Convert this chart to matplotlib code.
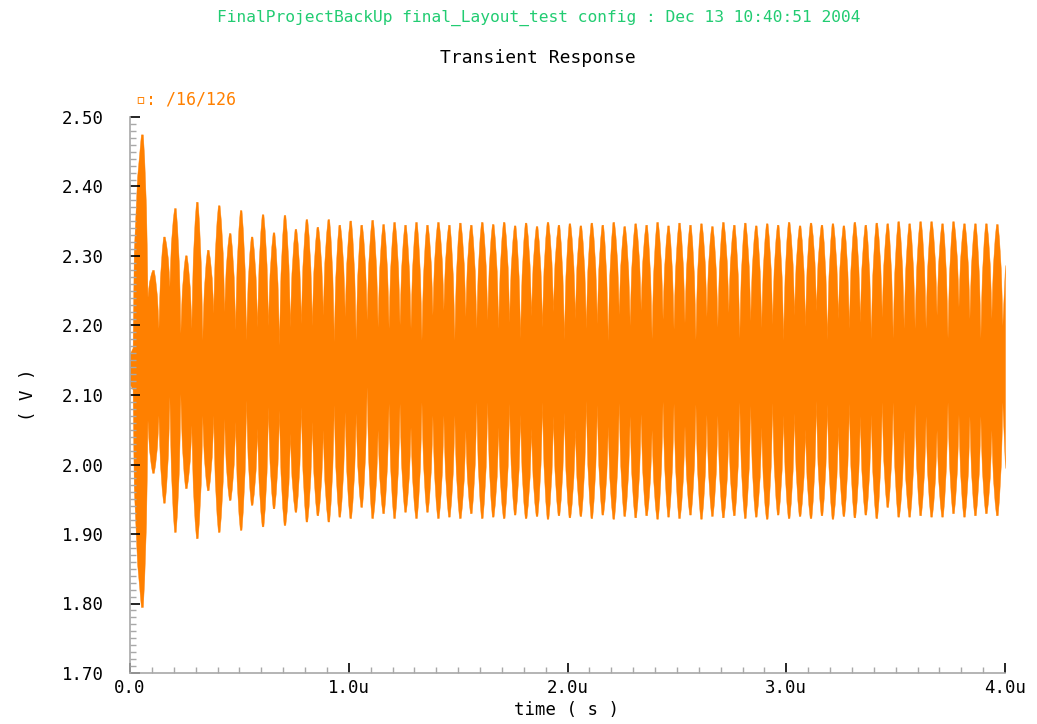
import numpy as np
import matplotlib
matplotlib.use("Agg")
import matplotlib.pyplot as plt
from matplotlib.ticker import MultipleLocator, FuncFormatter

plt.rcParams['font.family'] = ['DejaVu Sans Mono', 'DejaVu Sans']

# ---- waveform data: per-cycle envelope of the output node ----
first_peak_t = 0.0549e-6      # time of the first (largest) overshoot
cycle_period = 0.0501e-6      # period of the ringing pattern
end_t = 4.0e-6

start_t = [0.0, 0.012e-6]
start_hi = [2.160, 2.168]
start_lo = [2.115, 2.108]

spike_hi = [
    2.475, 2.280, 2.328, 2.369, 2.301, 2.378, 2.309, 2.373, 2.333, 2.366,
    2.328, 2.360, 2.334, 2.359, 2.339, 2.353, 2.342, 2.353, 2.345, 2.351,
    2.345, 2.352, 2.346, 2.349, 2.345, 2.349, 2.345, 2.349, 2.345, 2.348,
    2.345, 2.349, 2.346, 2.349, 2.344, 2.348, 2.343, 2.349, 2.345, 2.347,
    2.344, 2.348, 2.345, 2.349, 2.343, 2.347, 2.345, 2.349, 2.344, 2.348,
    2.345, 2.347, 2.343, 2.349, 2.345, 2.348, 2.344, 2.347, 2.345, 2.349,
    2.344, 2.348, 2.345, 2.347, 2.344, 2.349, 2.345, 2.348, 2.347, 2.350,
    2.347, 2.350, 2.350, 2.347, 2.350, 2.347, 2.347, 2.347, 2.346,
]
spike_lo = [
    1.795, 1.988, 1.945, 1.903, 1.966, 1.894, 1.963, 1.903, 1.949, 1.906,
    1.942, 1.911, 1.937, 1.913, 1.932, 1.918, 1.927, 1.918, 1.925, 1.923,
    1.939, 1.923, 1.930, 1.923, 1.932, 1.923, 1.932, 1.923, 1.925, 1.923,
    1.930, 1.923, 1.925, 1.923, 1.928, 1.923, 1.926, 1.922, 1.927, 1.924,
    1.926, 1.923, 1.928, 1.922, 1.926, 1.924, 1.927, 1.922, 1.925, 1.923,
    1.928, 1.922, 1.926, 1.924, 1.927, 1.923, 1.925, 1.922, 1.928, 1.923,
    1.926, 1.923, 1.927, 1.922, 1.926, 1.924, 1.928, 1.923, 1.939, 1.925,
    1.925, 1.927, 1.925, 1.925, 1.930, 1.925, 1.927, 1.930, 1.927,
]
notch_hi = [
    2.241, 2.196, 2.256, 2.189, 2.196, 2.179, 2.218, 2.220, 2.194, 2.179,
    2.198, 2.200, 2.172, 2.198, 2.203, 2.200, 2.215, 2.177, 2.213, 2.179,
    2.208, 2.198, 2.196, 2.201, 2.196, 2.179, 2.215, 2.222, 2.179, 2.213,
    2.196, 2.208, 2.196, 2.205, 2.182, 2.214, 2.198, 2.220, 2.180, 2.210,
    2.196, 2.203, 2.178, 2.216, 2.200, 2.222, 2.181, 2.209, 2.195, 2.204,
    2.180, 2.213, 2.198, 2.219, 2.182, 2.207, 2.197, 2.202, 2.179, 2.215,
    2.199, 2.221, 2.180, 2.210, 2.196, 2.205, 2.181, 2.212, 2.182, 2.196,
    2.196, 2.196, 2.215, 2.182, 2.227, 2.210, 2.182, 2.210, 2.200,
]
notch_lo = [
    2.064, 2.071, 2.098, 2.102, 2.057, 2.071, 2.071, 2.066, 2.062, 2.093,
    2.052, 2.083, 2.078, 2.045, 2.083, 2.062, 2.050, 2.086, 2.076, 2.074,
    2.112, 2.050, 2.088, 2.088, 2.054, 2.090, 2.071, 2.071, 2.071, 2.050,
    2.090, 2.090, 2.054, 2.088, 2.072, 2.052, 2.090, 2.070, 2.075, 2.051,
    2.092, 2.086, 2.055, 2.089, 2.070, 2.073, 2.050, 2.091, 2.088, 2.056,
    2.087, 2.072, 2.071, 2.052, 2.090, 2.085, 2.054, 2.089, 2.071, 2.074,
    2.051, 2.092, 2.087, 2.055, 2.088, 2.070, 2.072, 2.090, 2.090, 2.050,
    2.088, 2.070, 2.050, 2.090, 2.072, 2.070, 2.070, 2.050, 2.090,
]
final_hi = 2.287
final_lo = 1.995

# ---- text ----
header = "FinalProjectBackUp final_Layout_test config : Dec 13 10:40:51 2004"
title = "Transient Response"
trace_name = "\u25ab: /16/126"
x_label = "time ( s )"
y_label = "( V )"

ORANGE = "#ff8000"
GREEN = "#22cc72"

# Shape of one overshoot: (time offset in periods, fraction of the way
# from the peak down to the neighbouring notch).  Rounded shoulders,
# narrow notches.
RISE = [(-0.435, 0.70), (-0.365, 0.45), (-0.20, 0.15), (-0.075, 0.0)]
FALL = [(0.075, 0.0), (0.20, 0.15), (0.365, 0.45), (0.435, 0.70), (0.5, 1.0)]

n = len(spike_hi)
t_env, hi_env, lo_env = list(start_t), list(start_hi), list(start_lo)
for k in range(n):
    tk = first_peak_t + k * cycle_period
    if k == 0:
        left_hi, left_lo = start_hi[-1], start_lo[-1]
        rise = [(-0.75, 0.55), (-0.45, 0.2), (-0.1, 0.0)]
    else:
        left_hi, left_lo = notch_hi[k - 1], notch_lo[k - 1]
        rise = RISE
    for off, d in rise:
        t_env.append(tk + off * cycle_period)
        hi_env.append(spike_hi[k] - d * (spike_hi[k] - left_hi))
        lo_env.append(spike_lo[k] - d * (spike_lo[k] - left_lo))
    for off, d in FALL:
        t_env.append(tk + off * cycle_period)
        hi_env.append(spike_hi[k] - d * (spike_hi[k] - notch_hi[k]))
        lo_env.append(spike_lo[k] - d * (spike_lo[k] - notch_lo[k]))
t_env.append(end_t)
hi_env.append(final_hi)
lo_env.append(final_lo)

fig = plt.figure(figsize=(10.37, 7.24), dpi=100)
fig.patch.set_facecolor("white")
ax = fig.add_axes([130 / 1037, 51 / 724, 875 / 1037, 556 / 724])

ax.fill_between(t_env, lo_env, hi_env, color=ORANGE, linewidth=0.3,
                edgecolor=ORANGE)

ax.set_xlim(0, 4.0e-6)
ax.set_ylim(1.70, 2.50)

for side in ("top", "right"):
    ax.spines[side].set_visible(False)
for side in ("left", "bottom"):
    ax.spines[side].set_color("#a8a8a8")
    ax.spines[side].set_linewidth(1.2)

ax.xaxis.set_major_locator(MultipleLocator(1.0e-6))
ax.xaxis.set_minor_locator(MultipleLocator(0.1e-6))
ax.yaxis.set_major_locator(MultipleLocator(0.1))
ax.yaxis.set_minor_locator(MultipleLocator(0.01))
ax.xaxis.set_major_formatter(FuncFormatter(
    lambda v, p: "0.0" if abs(v) < 1e-12 else f"{v * 1e6:.1f}u"))
ax.yaxis.set_major_formatter(FuncFormatter(lambda v, p: f"{v:.2f}"))

ax.tick_params(axis="both", which="major", direction="in", length=7,
               width=1.2, color="black", labelsize=12.5)
ax.tick_params(axis="both", which="minor", direction="in", length=4,
               width=1, color="#a8a8a8")
ax.tick_params(axis="y", which="major", pad=19)
ax.tick_params(axis="x", which="major", pad=4)

fig.text(539 / 1037, 1 - 18 / 724, header, color=GREEN, fontsize=11.7,
         ha="center", va="center")
fig.text(538 / 1037, 1 - 58 / 724, title, color="black", fontsize=13,
         ha="center", va="center")
fig.text(136 / 1037, 1 - 100 / 724, trace_name, color=ORANGE, fontsize=12,
         ha="left", va="center")
fig.text(567 / 1037, 1 - 710 / 724, x_label, color="black", fontsize=12.5,
         ha="center", va="center")
fig.text(28 / 1037, 1 - 395 / 724, y_label, color="black", fontsize=12.5,
         ha="center", va="center", rotation=90)

fig.savefig("out.png", dpi=100, facecolor="white")
